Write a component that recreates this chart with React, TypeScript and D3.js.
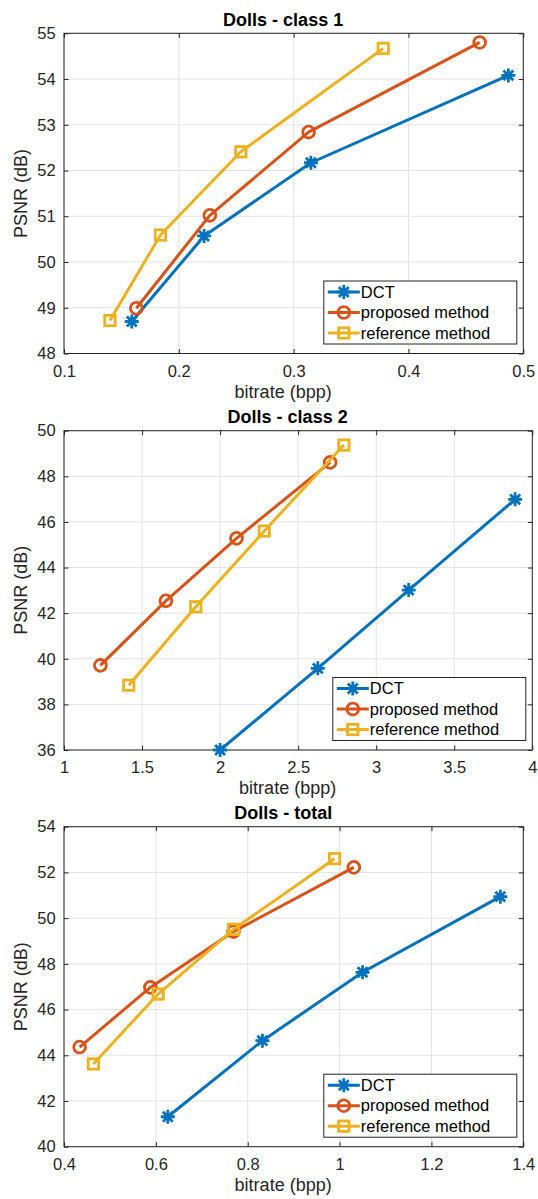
import React, { useRef, useEffect } from "react";
import * as d3 from "d3";

const chart_width = 538;
const chart_height = 1199;
const font = "'Liberation Sans', Arial, Helvetica, sans-serif";
const axisColor = "#262626";

const seriesNames = ["DCT", "proposed method", "reference method"];
const seriesColors = ["#0072BD", "#D95319", "#EDB120"];
const seriesMarkers = ["asterisk", "circle", "square"];

// Dolls - class 1
const class1DctX = [0.159, 0.222, 0.315, 0.487];
const class1DctY = [48.7, 50.57, 52.17, 54.08];
const class1PropX = [0.163, 0.227, 0.313, 0.462];
const class1PropY = [48.99, 51.02, 52.84, 54.8];
const class1RefX = [0.14, 0.184, 0.254, 0.378];
const class1RefY = [48.72, 50.59, 52.41, 54.67];
const class1XTicks = [0.1, 0.2, 0.3, 0.4, 0.5];
const class1YTicks = [48, 49, 50, 51, 52, 53, 54, 55];

// Dolls - class 2
const class2DctX = [2.0, 2.626, 3.208, 3.89];
const class2DctY = [36.0, 39.58, 43.01, 46.99];
const class2PropX = [1.233, 1.653, 2.105, 2.705];
const class2PropY = [39.71, 42.54, 45.28, 48.61];
const class2RefX = [1.415, 1.844, 2.283, 2.793];
const class2RefY = [38.84, 42.28, 45.6, 49.37];
const class2XTicks = [1, 1.5, 2, 2.5, 3, 3.5, 4];
const class2YTicks = [36, 38, 40, 42, 44, 46, 48, 50];

// Dolls - total
const totalDctX = [0.626, 0.832, 1.05, 1.35];
const totalDctY = [41.31, 44.64, 47.63, 50.94];
const totalPropX = [0.434, 0.588, 0.769, 1.031];
const totalPropY = [44.36, 46.97, 49.41, 52.22];
const totalRefX = [0.464, 0.605, 0.769, 0.989];
const totalRefY = [43.62, 46.68, 49.51, 52.6];
const totalXTicks = [0.4, 0.6, 0.8, 1, 1.2, 1.4];
const totalYTicks = [40, 42, 44, 46, 48, 50, 52, 54];

const panels = [
  {
    title: "Dolls - class 1",
    box: { left: 64, right: 523.3, top: 33.3, bottom: 353.5 },
    xTicks: class1XTicks,
    yTicks: class1YTicks,
    xs: [class1DctX, class1PropX, class1RefX],
    ys: [class1DctY, class1PropY, class1RefY],
  },
  {
    title: "Dolls - class 2",
    box: { left: 64, right: 532.3, top: 430.7, bottom: 750 },
    xTicks: class2XTicks,
    yTicks: class2YTicks,
    xs: [class2DctX, class2PropX, class2RefX],
    ys: [class2DctY, class2PropY, class2RefY],
  },
  {
    title: "Dolls - total",
    box: { left: 64, right: 523.3, top: 826.7, bottom: 1146.7 },
    xTicks: totalXTicks,
    yTicks: totalYTicks,
    xs: [totalDctX, totalPropX, totalRefX],
    ys: [totalDctY, totalPropY, totalRefY],
  },
];

const drawMarker = (g: any, type: string, cx: number, cy: number, color: string) => {
  if (type === "circle") {
    g.append("circle")
      .attr("cx", cx)
      .attr("cy", cy)
      .attr("r", 5.9)
      .attr("fill", "none")
      .attr("stroke", color)
      .attr("stroke-width", 2.8);
  } else if (type === "square") {
    g.append("rect")
      .attr("x", cx - 5.2)
      .attr("y", cy - 5.2)
      .attr("width", 10.4)
      .attr("height", 10.4)
      .attr("fill", "none")
      .attr("stroke", color)
      .attr("stroke-width", 2.8);
  } else {
    const r = 7;
    let p = "";
    [0, 45, 90, 135].forEach((a) => {
      const dx = r * Math.cos((a * Math.PI) / 180);
      const dy = r * Math.sin((a * Math.PI) / 180);
      p += `M${cx - dx},${cy - dy}L${cx + dx},${cy + dy}`;
    });
    g.append("path")
      .attr("d", p)
      .attr("stroke", color)
      .attr("stroke-width", 2.8)
      .attr("fill", "none");
  }
};

const App: React.FC = () => {
  const d3Container = useRef(null);

  useEffect(() => {
    if (!d3Container.current) return;
    const svg = d3.select(d3Container.current);
    svg.selectAll("*").remove();

    panels.forEach((panel) => {
      const { left, right, top, bottom } = panel.box;
      const xDomain = d3.extent(panel.xTicks) as [number, number];
      const yDomain = d3.extent(panel.yTicks) as [number, number];
      const x_scale = d3.scaleLinear().domain(xDomain).range([left, right]);
      const y_scale = d3.scaleLinear().domain(yDomain).range([bottom, top]);
      const g = svg.append("g");

      g.append("rect")
        .attr("x", left)
        .attr("y", top)
        .attr("width", right - left)
        .attr("height", bottom - top)
        .attr("fill", "#fff");

      // grid
      g.selectAll(".vgrid")
        .data(panel.xTicks)
        .enter()
        .append("line")
        .attr("x1", (d) => x_scale(d))
        .attr("x2", (d) => x_scale(d))
        .attr("y1", top)
        .attr("y2", bottom)
        .attr("stroke", "#e3e3e3")
        .attr("stroke-width", 1);
      g.selectAll(".hgrid")
        .data(panel.yTicks)
        .enter()
        .append("line")
        .attr("x1", left)
        .attr("x2", right)
        .attr("y1", (d) => y_scale(d))
        .attr("y2", (d) => y_scale(d))
        .attr("stroke", "#e3e3e3")
        .attr("stroke-width", 1);

      const fmt = d3.format("~g");
      const styleAxis = (a: any) => {
        a.attr("color", axisColor)
          .attr("font-family", font)
          .attr("font-size", 16.5);
        a.select(".domain").remove();
        a.selectAll("text").attr("fill", axisColor);
      };

      g.append("g")
        .attr("transform", `translate(0,${bottom})`)
        .call(d3.axisBottom(x_scale).tickValues(panel.xTicks).tickFormat(fmt as any).tickSizeInner(-4.5).tickSizeOuter(0).tickPadding(11.5))
        .call(styleAxis);
      g.append("g")
        .attr("transform", `translate(${left},0)`)
        .call(d3.axisLeft(y_scale).tickValues(panel.yTicks).tickFormat(fmt as any).tickSizeInner(-4.5).tickSizeOuter(0).tickPadding(8.3))
        .call(styleAxis);
      g.append("g")
        .attr("transform", `translate(0,${top})`)
        .call(d3.axisTop(x_scale).tickValues(panel.xTicks).tickFormat(() => "").tickSizeInner(-4.5).tickSizeOuter(0))
        .call(styleAxis);
      g.append("g")
        .attr("transform", `translate(${right},0)`)
        .call(d3.axisRight(y_scale).tickValues(panel.yTicks).tickFormat(() => "").tickSizeInner(-4.5).tickSizeOuter(0))
        .call(styleAxis);

      g.append("rect")
        .attr("x", left)
        .attr("y", top)
        .attr("width", right - left)
        .attr("height", bottom - top)
        .attr("fill", "none")
        .attr("stroke", axisColor)
        .attr("stroke-width", 1);

      // series
      panel.xs.forEach((xs, i) => {
        const pts: [number, number][] = xs.map((v, j) => [v, panel.ys[i][j]]);
        const line = d3
          .line<[number, number]>()
          .x((d) => x_scale(d[0]))
          .y((d) => y_scale(d[1]));
        g.append("path")
          .attr("d", line(pts) as string)
          .attr("fill", "none")
          .attr("stroke", seriesColors[i])
          .attr("stroke-width", 3)
          .attr("stroke-linejoin", "round");
        pts.forEach((d) => {
          drawMarker(g, seriesMarkers[i], x_scale(d[0]), y_scale(d[1]), seriesColors[i]);
        });
      });

      const midX = (left + right) / 2 - 10.5;

      // title
      g.append("text")
        .attr("x", midX)
        .attr("y", top - 7.5)
        .attr("text-anchor", "middle")
        .attr("font-family", font)
        .attr("font-size", 18)
        .attr("font-weight", "bold")
        .attr("fill", "#000")
        .text(panel.title);

      // x label
      g.append("text")
        .attr("x", midX)
        .attr("y", bottom + 44)
        .attr("text-anchor", "middle")
        .attr("font-family", font)
        .attr("font-size", 18)
        .attr("fill", axisColor)
        .text("bitrate (bpp)");

      // y label
      g.append("text")
        .attr("transform", `translate(27,${(top + bottom) / 2}) rotate(-90)`)
        .attr("text-anchor", "middle")
        .attr("font-family", font)
        .attr("font-size", 18)
        .attr("fill", axisColor)
        .text("PSNR (dB)");

      // legend
      const lw = 193;
      const lh = 63;
      const lx = right - 6.5 - lw;
      const ly = bottom - 9.5 - lh;
      const leg = g.append("g").attr("transform", `translate(${lx},${ly})`);
      leg
        .append("rect")
        .attr("width", lw)
        .attr("height", lh)
        .attr("fill", "#fff")
        .attr("stroke", axisColor)
        .attr("stroke-width", 1);
      seriesNames.forEach((name, i) => {
        const cy = 11 + i * 20.5;
        leg
          .append("line")
          .attr("x1", 4)
          .attr("x2", 36)
          .attr("y1", cy)
          .attr("y2", cy)
          .attr("stroke", seriesColors[i])
          .attr("stroke-width", 3);
        drawMarker(leg, seriesMarkers[i], 20, cy, seriesColors[i]);
        leg
          .append("text")
          .attr("x", 37)
          .attr("y", cy)
          .attr("dy", "0.35em")
          .attr("font-family", font)
          .attr("font-size", 16.5)
          .attr("fill", "#000")
          .text(name);
      });
    });
  }, []);

  return (
    <svg
      ref={d3Container}
      width={chart_width}
      height={chart_height}
      style={{ position: "absolute", left: 0, top: 0, background: "#fff" }}
    />
  );
};

export default App;
